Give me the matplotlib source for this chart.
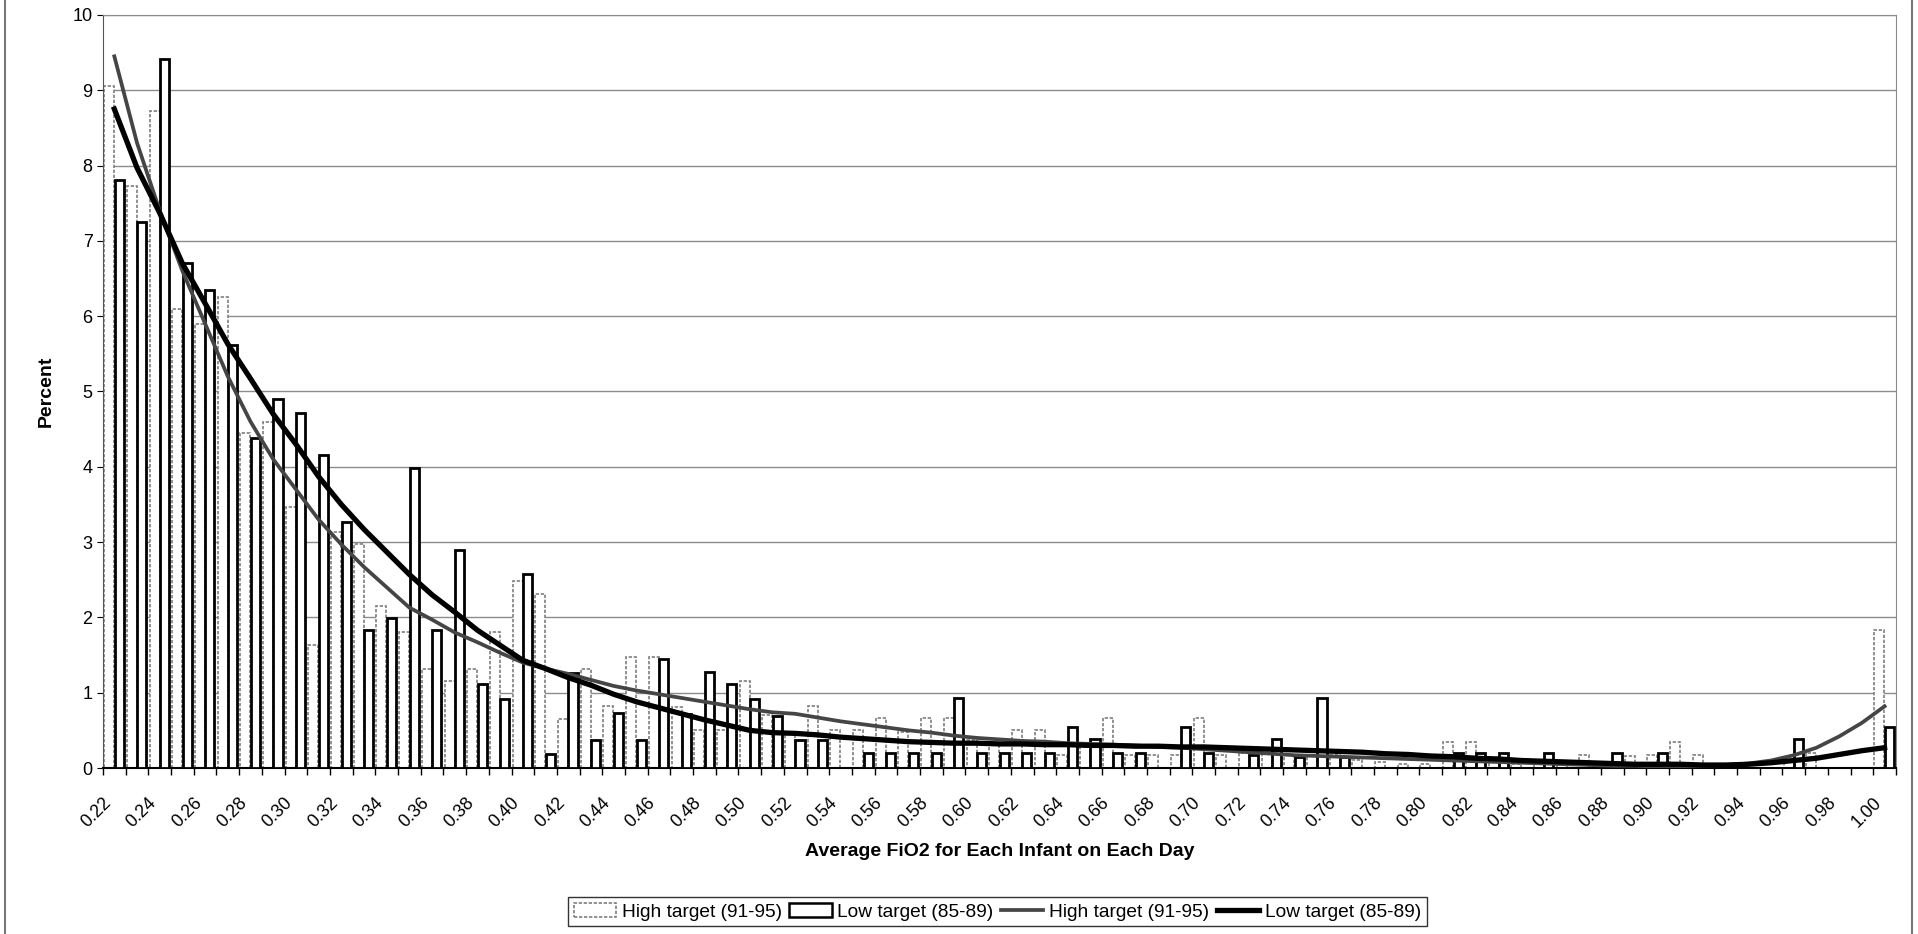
import numpy as np
import matplotlib.pyplot as plt
import matplotlib.transforms as mtransforms
from matplotlib.patches import Patch
from matplotlib.lines import Line2D

plt.rcParams['font.family'] = ['Liberation Sans', 'DejaVu Sans']

# FiO2 categories 0.22 ... 1.00
fio2 = [round(0.22 + 0.01 * k, 2) for k in range(79)]

high_pct = [9.05, 7.73, 8.73, 6.10, 5.90, 6.25, 4.45, 4.60, 3.47, 1.63,
            3.13, 2.98, 2.15, 1.81, 1.31, 1.15, 1.31, 1.81, 2.48, 2.31,
            0.65, 1.32, 0.82, 1.48, 1.48, 0.81, 0.50, 0.50, 1.15, 0.70,
            0.45, 0.83, 0.50, 0.50, 0.66, 0.48, 0.66, 0.66, 0.37, 0.30,
            0.50, 0.50, 0.17, 0.28, 0.66, 0.17, 0.17, 0.17, 0.66, 0.17,
            0.20, 0.20, 0.17, 0.17, 0.17, 0.10, 0.08, 0.05, 0.05, 0.34,
            0.34, 0.13, 0.05, 0.05, 0.05, 0.17, 0.03, 0.16, 0.17, 0.34,
            0.17, 0.00, 0.00, 0.00, 0.10, 0.20, 0.00, 0.00, 1.83]

low_pct = [7.81, 7.25, 9.42, 6.70, 6.35, 5.62, 4.38, 4.90, 4.72, 4.15,
           3.27, 1.83, 1.99, 3.99, 1.83, 2.90, 1.11, 0.92, 2.57, 0.18,
           1.26, 0.37, 0.73, 0.37, 1.45, 0.72, 1.27, 1.11, 0.91, 0.69,
           0.37, 0.37, 0.00, 0.20, 0.20, 0.20, 0.20, 0.93, 0.20, 0.20,
           0.20, 0.20, 0.55, 0.38, 0.20, 0.20, 0.00, 0.55, 0.20, 0.00,
           0.17, 0.38, 0.15, 0.93, 0.15, 0.00, 0.00, 0.00, 0.00, 0.20,
           0.20, 0.20, 0.00, 0.20, 0.00, 0.00, 0.20, 0.00, 0.20, 0.00,
           0.00, 0.00, 0.00, 0.00, 0.38, 0.00, 0.00, 0.00, 0.55]

# trend lines
high_trend = [9.45, 8.30, 7.40, 6.60, 5.90, 5.20, 4.60, 4.10, 3.70, 3.30,
              2.97, 2.67, 2.40, 2.13, 1.97, 1.80, 1.67, 1.53, 1.40, 1.32,
              1.25, 1.17, 1.09, 1.03, 0.98, 0.93, 0.88, 0.83, 0.78, 0.74,
              0.72, 0.67, 0.62, 0.58, 0.54, 0.50, 0.47, 0.43, 0.40, 0.38,
              0.36, 0.35, 0.33, 0.32, 0.31, 0.30, 0.28, 0.27, 0.25, 0.23,
              0.21, 0.19, 0.17, 0.16, 0.15, 0.14, 0.13, 0.12, 0.11, 0.10,
              0.09, 0.08, 0.07, 0.06, 0.05, 0.04, 0.03, 0.03, 0.02, 0.02,
              0.03, 0.04, 0.06, 0.10, 0.17, 0.27, 0.42, 0.60, 0.82]

low_trend = [8.75, 7.97, 7.37, 6.70, 6.17, 5.63, 5.17, 4.70, 4.30, 3.87,
             3.50, 3.17, 2.87, 2.57, 2.30, 2.07, 1.83, 1.63, 1.43, 1.32,
             1.20, 1.10, 0.98, 0.88, 0.80, 0.72, 0.64, 0.57, 0.50, 0.47,
             0.46, 0.44, 0.41, 0.39, 0.37, 0.35, 0.34, 0.33, 0.33, 0.32,
             0.32, 0.31, 0.31, 0.30, 0.30, 0.29, 0.29, 0.28, 0.28, 0.27,
             0.26, 0.25, 0.24, 0.23, 0.22, 0.21, 0.19, 0.18, 0.16, 0.15,
             0.13, 0.12, 0.10, 0.09, 0.08, 0.07, 0.06, 0.05, 0.05, 0.05,
             0.04, 0.04, 0.05, 0.07, 0.10, 0.13, 0.18, 0.23, 0.27]

x = np.arange(len(fio2))

fig = plt.figure(figsize=(19.18, 9.34), dpi=100)
ax = fig.add_axes([0.0537, 0.1777, 0.9348, 0.8063])

light_edge = '#7f7f7f'
ax.bar(x - 0.23, high_pct, width=0.44, color='white', edgecolor=light_edge,
       linewidth=1.2, linestyle=(0, (2, 1)), zorder=2)
ax.bar(x + 0.21, low_pct, width=0.40, color='white', edgecolor='black',
       linewidth=2.0, zorder=3)

ax.plot(x, high_trend, color='#454545', linewidth=2.7, zorder=4)
ax.plot(x, low_trend, color='black', linewidth=3.8, zorder=5)

ax.set_xlim(-0.5, len(fio2) - 0.5)
ax.set_ylim(0, 10)
ax.set_yticks(range(0, 11))
ax.tick_params(axis='y', labelsize=13, length=4)
ax.yaxis.grid(True, color='#8c8c8c', linewidth=1.0)
ax.set_axisbelow(True)

ax.set_xticks(x[::2])
ax.set_xticklabels([f"{v:.2f}" for v in fio2[::2]], rotation=45, ha='right',
                   rotation_mode='anchor', fontsize=12.8)
ax.set_xticks(np.arange(-0.5, len(fio2)), minor=True)
ax.tick_params(axis='x', which='major', length=0, pad=19)
ax.tick_params(axis='x', which='minor', length=5, width=1.0)
shift = mtransforms.ScaledTranslation(-0.12, 0, fig.dpi_scale_trans)
for lab in ax.get_xticklabels():
    lab.set_transform(lab.get_transform() + shift)

for side in ['top', 'right']:
    ax.spines[side].set_color('#8c8c8c')
ax.spines['left'].set_color('#555555')
ax.spines['bottom'].set_linewidth(1.5)

ax.set_ylabel('Percent', fontsize=14, fontweight='bold', labelpad=13)
fig.text(0.5214, 0.0878, 'Average FiO2 for Each Infant on Each Day', fontsize=14,
         fontweight='bold', ha='center', va='center')

handles = [Patch(facecolor='white', edgecolor=light_edge, linestyle=(0, (2, 1)), linewidth=1.2),
           Patch(facecolor='white', edgecolor='black', linewidth=1.8),
           Line2D([], [], color='#454545', linewidth=2.7),
           Line2D([], [], color='black', linewidth=3.8)]
labels = ['High target (91-95)', 'Low target (85-89)',
          'High target (91-95)', 'Low target (85-89)']
leg = fig.legend(handles, labels, loc='center', bbox_to_anchor=(0.52, 0.0236),
                 ncol=4, fontsize=13.8, frameon=True, fancybox=False,
                 handlelength=2.2, handletextpad=0.3, columnspacing=0.4,
                 borderpad=0.3)
leg.get_frame().set_edgecolor('black')
leg.get_frame().set_linewidth(1.0)

# outer chart frame
fig.add_artist(Line2D([0.0028, 0.0028], [0, 1], color='#777777', linewidth=1.5))
fig.add_artist(Line2D([0.9968, 0.9968], [0, 1], color='#777777', linewidth=1.5))

fig.savefig('out.png', dpi=100)
